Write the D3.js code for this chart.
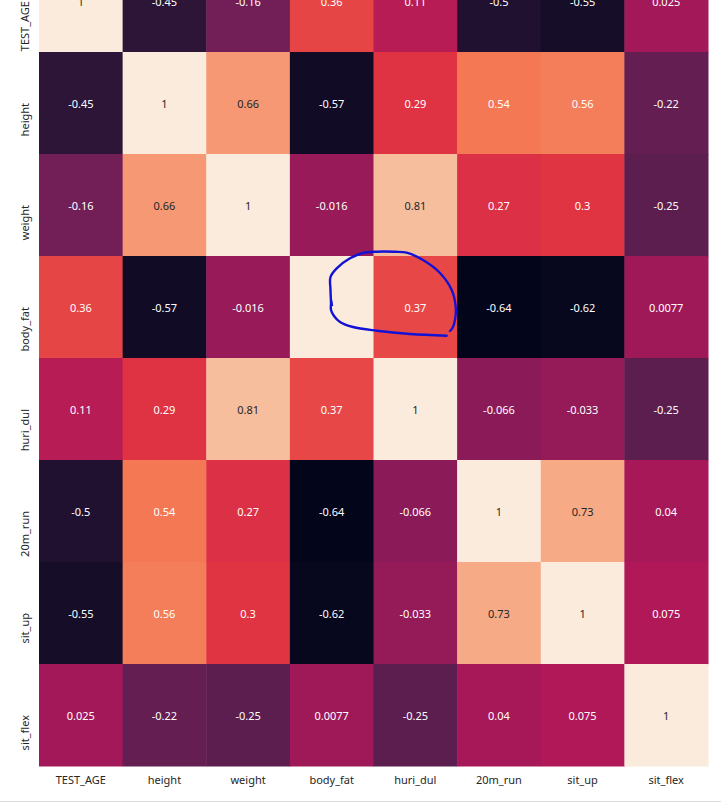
<!DOCTYPE html>
<html>
<head>
<meta charset="utf-8">
<script src="https://cdn.jsdelivr.net/npm/d3@7"></script>
<style>
  html, body { margin: 0; padding: 0; background: #fff; overflow: hidden; }
  svg { display: block; font-family: "Noto Sans", "Open Sans", sans-serif; }
</style>
</head>
<body>
<svg id="chart" width="721" height="806"></svg>
<script>
const categories = ["TEST_AGE", "height", "weight", "body_fat", "huri_dul", "20m_run", "sit_up", "sit_flex"];
const labels = [
  ["1", "-0.45", "-0.16", "0.36", "0.11", "-0.5", "-0.55", "0.025"],
  ["-0.45", "1", "0.66", "-0.57", "0.29", "0.54", "0.56", "-0.22"],
  ["-0.16", "0.66", "1", "-0.016", "0.81", "0.27", "0.3", "-0.25"],
  ["0.36", "-0.57", "-0.016", "1", "0.37", "-0.64", "-0.62", "0.0077"],
  ["0.11", "0.29", "0.81", "0.37", "1", "-0.066", "-0.033", "-0.25"],
  ["-0.5", "0.54", "0.27", "-0.64", "-0.066", "1", "0.73", "0.04"],
  ["-0.55", "0.56", "0.3", "-0.62", "-0.033", "0.73", "1", "0.075"],
  ["0.025", "-0.22", "-0.25", "0.0077", "-0.25", "0.04", "0.075", "1"]
];
const values = labels.map(r => r.map(Number));
// cells whose annotation is hidden in the reference (painted over)
const hiddenLabels = [[3, 3]];
// rocket colormap stops
const rocketStops = ["#03051a", "#35193e", "#701f57", "#ad1759", "#e13342", "#f37651", "#f6b48f", "#faebdd"];
// hand-drawn annotation stroke (pixel points)
const markPath = [
  [446.7, 335.7], [410, 334], [376.7, 330.7], [353, 327], [340, 322], [334, 316], [331, 310],
  [331, 303], [330.5, 290], [330.5, 277], [336.7, 268.3], [350, 258.3], [363, 253], [376.7, 251.7],
  [395, 251.8], [406.7, 252.7], [423, 260], [440, 273], [451.7, 290], [455.7, 306.7], [455, 320], [452.5, 328], [450, 331]
];
const markTick = [[331.5, 300], [332.5, 306]];

const svg = d3.select("#chart");
const x = d3.scaleBand().domain(categories).range([39, 708]);
const y = d3.scaleBand().domain(categories).range([-50, 766]);
const vmin = d3.min(values.flat()), vmax = d3.max(values.flat());
const tScale = d3.scaleLinear().domain([vmin, vmax]).range([0, 1]).clamp(true);
const interp = d3.piecewise(d3.interpolateRgb, rocketStops);
const color = v => interp(tScale(v));

const cells = [];
values.forEach((row, i) => row.forEach((v, j) => cells.push({ i, j, v, label: labels[i][j] })));

svg.append("g").selectAll("rect").data(cells).join("rect")
  .attr("x", d => x(categories[d.j]))
  .attr("y", d => y(categories[d.i]))
  .attr("width", x.bandwidth() + 0.5)
  .attr("height", y.bandwidth() + 0.5)
  .attr("fill", d => color(d.v));

function lum(c) {
  const rgb = d3.rgb(c);
  const f = u => { u /= 255; return u <= 0.03928 ? u / 12.92 : Math.pow((u + 0.055) / 1.055, 2.4); };
  return 0.2126 * f(rgb.r) + 0.7152 * f(rgb.g) + 0.0722 * f(rgb.b);
}

svg.append("g").selectAll("text")
  .data(cells.filter(d => !hiddenLabels.some(h => h[0] === d.i && h[1] === d.j)))
  .join("text")
  .attr("x", d => x(categories[d.j]) + x.bandwidth() / 2)
  .attr("y", d => y(categories[d.i]) + y.bandwidth() / 2)
  .attr("text-anchor", "middle")
  .attr("dominant-baseline", "central")
  .attr("font-size", 11)
  .attr("fill", d => lum(color(d.v)) > 0.408 ? "#262626" : "#ffffff")
  .text(d => d.label);

// axes
const xAxis = svg.append("g").attr("transform", "translate(0,766)")
  .call(d3.axisBottom(x).tickSize(0).tickPadding(10));
xAxis.select(".domain").remove();
xAxis.selectAll("text").attr("font-size", 11).attr("fill", "#262626")
  .attr("font-family", "Noto Sans, Open Sans, sans-serif");

const yAxis = svg.append("g").attr("transform", "translate(39,0)")
  .call(d3.axisLeft(y).tickSize(0).tickPadding(0));
yAxis.select(".domain").remove();
yAxis.selectAll(".tick text")
  .attr("font-size", 11).attr("fill", "#262626")
  .attr("font-family", "Noto Sans, Open Sans, sans-serif")
  .attr("x", 0).attr("dy", 0)
  .attr("text-anchor", "end")
  .attr("dominant-baseline", "central")
  .attr("transform", "translate(-15,0) rotate(-90)");

// bottom separator line
svg.append("line").attr("x1", 0).attr("x2", 721).attr("y1", 801.5).attr("y2", 801.5)
  .attr("stroke", "#dcdcdc").attr("stroke-width", 1);

// hand-drawn blue annotation
const line = d3.line().curve(d3.curveCatmullRom.alpha(0.5));
svg.append("path").attr("d", line(markPath))
  .attr("fill", "none").attr("stroke", "#1212d6").attr("stroke-width", 2.4)
  .attr("stroke-linecap", "round").attr("stroke-linejoin", "round");
svg.append("path").attr("d", d3.line()(markTick))
  .attr("fill", "none").attr("stroke", "#1212d6").attr("stroke-width", 1.5);
</script>
</body>
</html>
